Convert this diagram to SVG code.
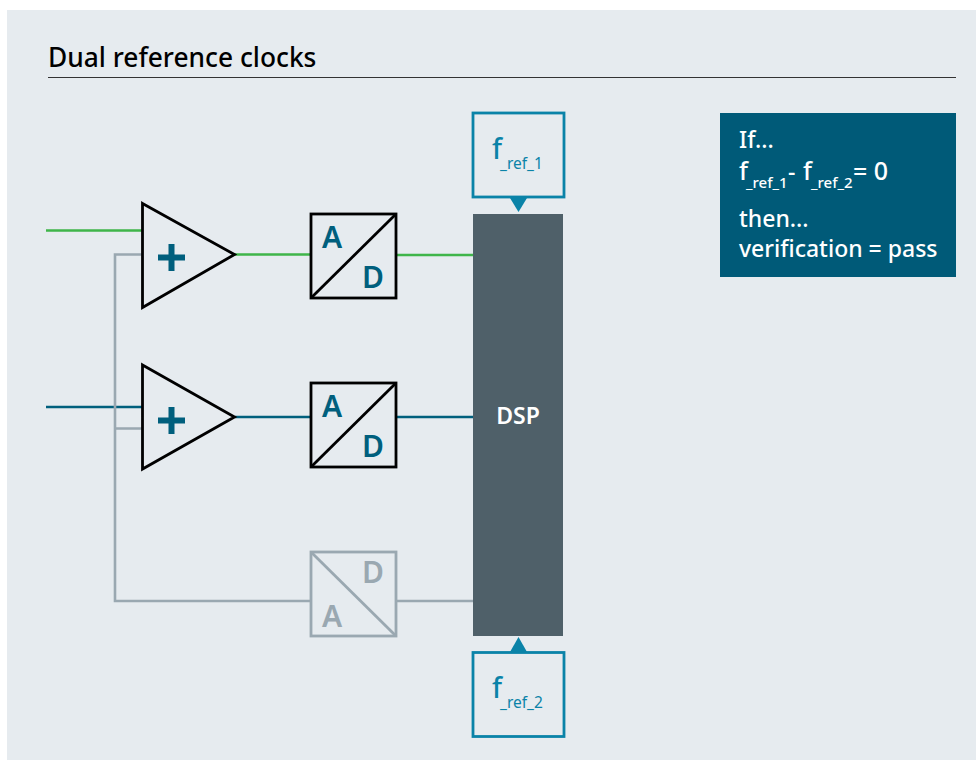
<svg xmlns="http://www.w3.org/2000/svg" width="976" height="760" viewBox="0 0 976 760">
<style>
text{font-family:"Noto Sans","Open Sans","Liberation Sans",sans-serif}
.w{fill:none;stroke-width:2.6}
.g{stroke:#3fb54a}.b{stroke:#005f7d}.s{stroke:#9aa8b1}
.amp{fill:none;stroke:#000;stroke-width:2.8;stroke-linejoin:miter}
.plus{fill:none;stroke:#005f7d;stroke-width:6}
.ad{font-size:30px;font-weight:600;text-anchor:middle;fill:#005f7d}
.adbox{fill:none;stroke:#000;stroke-width:2.8}
.gbox{fill:none;stroke:#9aa8b1;stroke-width:2.8}
.ref{fill:#e6ebef;stroke:#0a83a8;stroke-width:2.8}
.reft{fill:#0a83a8}
</style>
<rect width="976" height="760" fill="#fff"/>
<rect x="7" y="10" width="969" height="750" fill="#e6ebef"/>
<g id="title">
<text x="48" y="67" font-size="26.300" font-weight="500" fill="#000">Dual reference clocks</text>
<line x1="48" y1="77.500" x2="956" y2="77.500" stroke="#333" stroke-width="1.2"/>
</g>
<g id="connectors">
<path class="w g" d="M46 230.500H143M235 254.500H311M396 255H474"/>
<path class="w b" d="M46 407H143M235 417H311M396 417H474"/>
<path class="w s" d="M143 254.500H115V601H311M115 428.500H143M396 601H474"/>
</g>
<g id="amp1"><path class="amp" d="M142.500 203.500L234.500 254.500L142.500 307.500Z"/>
<path class="plus" d="M171.500 244V271M158 257.500H185"/></g>
<g id="amp2"><path class="amp" d="M142.500 365L234.500 417L142.500 469Z"/>
<path class="plus" d="M171.500 407V434M158 420.500H185"/></g>
<g id="adc1"><rect class="adbox" x="311" y="214" width="85" height="84"/><path class="adbox" d="M311 298L396 214"/>
<text class="ad" x="332" y="248">A</text><text class="ad" x="373" y="288">D</text></g>
<g id="adc2"><rect class="adbox" x="311" y="383" width="85" height="84"/><path class="adbox" d="M311 467L396 383"/>
<text class="ad" x="332" y="417">A</text><text class="ad" x="373" y="457">D</text></g>
<g id="adc3"><rect class="gbox" x="311" y="552" width="85" height="84"/><path class="gbox" d="M311 552L396 636"/>
<text class="ad" style="fill:#9aa8b1" x="373" y="583">D</text><text class="ad" style="fill:#9aa8b1" x="332" y="627">A</text></g>
<g id="dsp"><rect x="473" y="214" width="90" height="422" fill="#4f6069"/>
<text x="518" y="424" font-size="23" font-weight="600" fill="#fff" text-anchor="middle">DSP</text></g>
<g id="ref1"><rect class="ref" x="473" y="113" width="91" height="84"/>
<path d="M510 198H527L518.500 212Z" fill="#0a83a8"/>
<text class="reft" x="492" y="159" font-size="28" font-weight="500">f</text><text class="reft" x="500" y="169" font-size="15.500">_ref_1</text></g>
<g id="ref2"><rect class="ref" x="473" y="652.500" width="91" height="84"/>
<path d="M510 652H527L518.500 637Z" fill="#0a83a8"/>
<text class="reft" x="492" y="698" font-size="28" font-weight="500">f</text><text class="reft" x="500" y="708" font-size="15.500">_ref_2</text></g>
<g id="note"><rect x="720" y="113" width="236" height="164" fill="#005a78"/>
<g fill="#fff" font-size="23" font-weight="500"><text x="739" y="148">If...</text>
<text x="739" y="180" font-size="25">f</text><text x="746" y="188" font-size="15">_ref_1</text>
<text x="788" y="180">-</text>
<text x="803" y="180" font-size="25">f</text><text x="811" y="188" font-size="15">_ref_2</text>
<text x="853" y="180" font-size="25">= 0</text>
<text x="739" y="227">then...</text>
<text x="739" y="257">verification = pass</text></g></g>
</svg>
